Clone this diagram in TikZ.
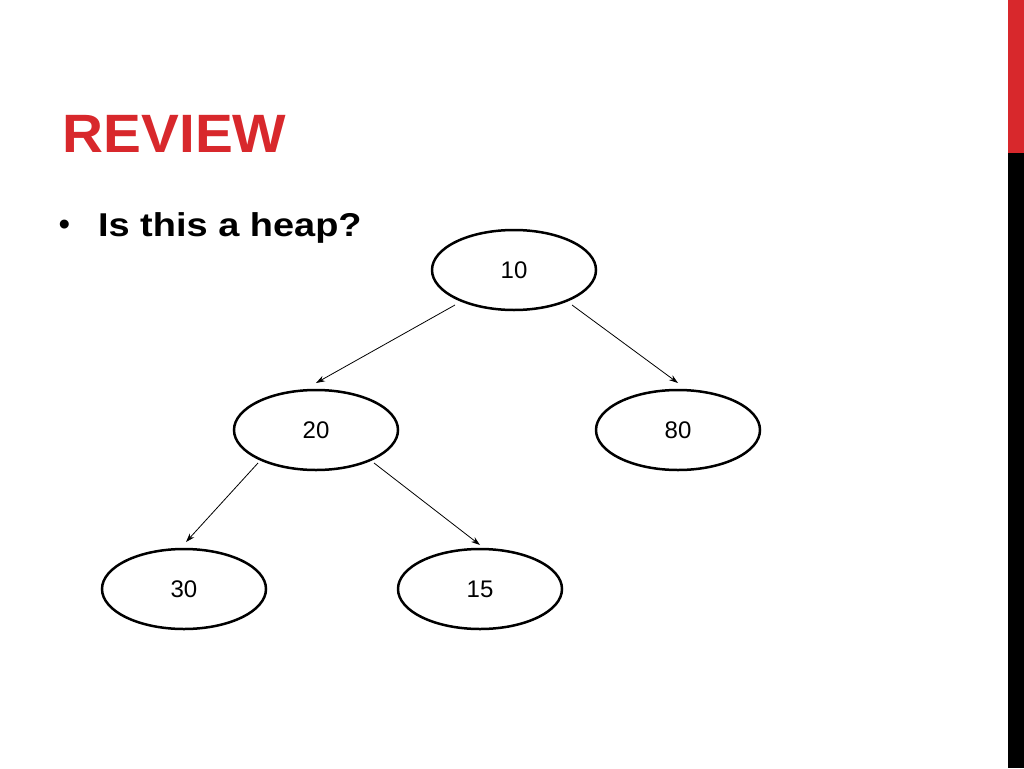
\documentclass[tikz,border=0pt]{standalone}
\usepackage{fontspec}
\setmainfont{Liberation Sans}
\usetikzlibrary{arrows.meta,shapes.geometric}
\definecolor{rred}{RGB}{216,40,44}
\begin{document}
\begin{tikzpicture}[x=1pt,y=-1pt,
  hn/.style={draw,line width=2.5pt,ellipse,minimum width=164pt,minimum height=80pt,font=\fontsize{24}{28}\selectfont},
  ar/.style={-{Stealth[length=9pt,width=6pt]},line width=0.8pt}]
\useasboundingbox (0,0) rectangle (1024,768);
\fill[rred] (1008,0) rectangle (1024,153);
\fill[black] (1008,153) rectangle (1024,768);
\node[anchor=west,text=rred,font=\fontsize{54}{60}\selectfont\bfseries,xscale=1.05] (t) at (59,134) {REVIEW};
\node[anchor=west,font=\fontsize{33}{40}\selectfont] (bl) at (55,228) {\textbullet};
\node[anchor=west,font=\fontsize{33}{40}\selectfont\bfseries,xscale=1.15] (b) at (94,228) {Is this a heap?};
\node[hn] (n10) at (514,270) {10};
\node[hn] (n20) at (316,430) {20};
\node[hn] (n80) at (678,430) {80};
\node[hn] (n30) at (184,589) {30};
\node[hn] (n15) at (480,589) {15};
\coordinate (a1) at (455,305); \coordinate (e1) at (316,383);
\coordinate (a2) at (572,305); \coordinate (e2) at (678,383);
\coordinate (a3) at (258,463); \coordinate (e3) at (186,542);
\coordinate (a4) at (374,463); \coordinate (e4) at (480,545);
\draw[ar] (a1) -- (e1);
\draw[ar] (a2) -- (e2);
\draw[ar] (a3) -- (e3);
\draw[ar] (a4) -- (e4);
\end{tikzpicture}
\end{document}
